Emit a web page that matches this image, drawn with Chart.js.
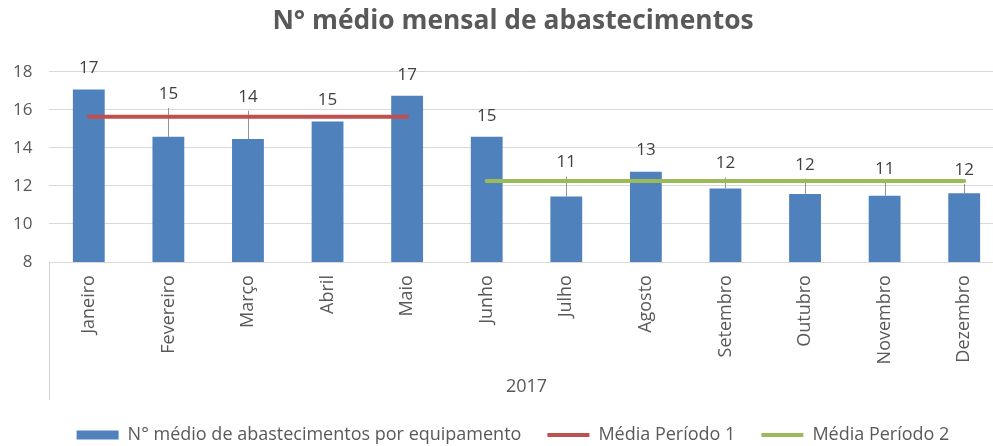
<!DOCTYPE html>
<html>
<head>
<meta charset="utf-8">
<script src="https://cdn.jsdelivr.net/npm/chart.js@4/dist/chart.umd.min.js"></script>
<style>
  html, body { margin: 0; padding: 0; background: #fff; overflow: hidden; }
  #wrap { width: 1030px; height: 446px; position: relative; }
</style>
</head>
<body>
<div id="wrap"><canvas id="chart"></canvas></div>
<script>
// Monthly data, 2017
const months = ['Janeiro', 'Fevereiro', 'Março', 'Abril', 'Maio', 'Junho',
  'Julho', 'Agosto', 'Setembro', 'Outubro', 'Novembro', 'Dezembro'];
const avgRefuels = [17.07, 14.58, 14.46, 15.38, 16.74, 14.58, 11.44, 12.75, 11.86, 11.58, 11.48, 11.62];
// upper end of the error bars (null = none visible)
const errorTop = [null, 16.09, 15.95, null, null, null, 12.49, null, 12.44, 12.38, 12.17, 12.10];
const meanPeriod1 = [15.63, 15.63, 15.63, 15.63, 15.63, null, null, null, null, null, null, null];
const meanPeriod2 = [null, null, null, null, null, 12.26, 12.26, 12.26, 12.26, 12.26, 12.26, 12.26];
const yearLabel = '2017';

const FONT = "'Open Sans', sans-serif";
const BLUE = '#4f81bd';
const RED = '#c0504d';
const GREEN = '#9bbb59';

// error bars, value labels and the left category border
const extras = {
  id: 'extras',
  beforeDatasetsDraw(chart) {
    const { ctx, chartArea, scales: { x } } = chart;
    ctx.save();
    ctx.strokeStyle = '#d0d0d0';
    ctx.lineWidth = 1;
    ctx.beginPath();
    ctx.moveTo(Math.round(chartArea.left) + 0.5, chartArea.bottom);
    ctx.lineTo(Math.round(chartArea.left) + 0.5, x.bottom);
    ctx.stroke();
    ctx.restore();
  },
  afterDatasetDraw(chart, args) {
    if (args.index !== 0) return;
    const { ctx, scales: { x, y } } = chart;
    ctx.save();
    ctx.strokeStyle = '#939393';
    ctx.lineWidth = 1;
    errorTop.forEach((v, i) => {
      if (v === null) return;
      const px = Math.round(x.getPixelForValue(i)) + 0.5;
      ctx.beginPath();
      ctx.moveTo(px, y.getPixelForValue(avgRefuels[i]));
      ctx.lineTo(px, y.getPixelForValue(v));
      ctx.stroke();
    });
    ctx.restore();
  },
  afterDatasetsDraw(chart) {
    const { ctx, scales: { x, y } } = chart;
    ctx.save();
    ctx.fillStyle = '#404040';
    ctx.font = '17px ' + FONT;
    ctx.textAlign = 'center';
    ctx.textBaseline = 'middle';
    avgRefuels.forEach((v, i) => {
      const top = errorTop[i] !== null ? y.getPixelForValue(errorTop[i]) - 14 : y.getPixelForValue(v) - 21;
      ctx.fillText(Math.round(v).toString(), x.getPixelForValue(i), top);
    });
    ctx.restore();
  }
};

new Chart(document.getElementById('chart'), {
  type: 'bar',
  data: {
    labels: months,
    datasets: [
      {
        label: 'N° médio de abastecimentos por equipamento',
        data: avgRefuels,
        backgroundColor: BLUE,
        categoryPercentage: 1,
        barPercentage: 0.4,
        order: 2
      },
      {
        type: 'line',
        label: 'Média Período 1',
        data: meanPeriod1,
        borderColor: RED,
        backgroundColor: RED,
        borderWidth: 4,
        borderCapStyle: 'round',
        pointRadius: 0,
        order: 1
      },
      {
        type: 'line',
        label: 'Média Período 2',
        data: meanPeriod2,
        borderColor: GREEN,
        backgroundColor: GREEN,
        borderWidth: 4,
        borderCapStyle: 'round',
        pointRadius: 0,
        order: 1
      }
    ]
  },
  options: {
    responsive: true,
    maintainAspectRatio: false,
    animation: false,
    layout: { padding: { left: 22, right: 26, top: 0, bottom: -8 } },
    scales: {
      x: {
        grid: { display: false },
        border: { color: '#d9d9d9' },
        ticks: {
          color: '#595959',
          font: { family: FONT, size: 18 },
          maxRotation: 90,
          minRotation: 90,
          padding: 5
        },
        title: {
          display: true,
          text: yearLabel,
          color: '#595959',
          font: { family: FONT, size: 18 },
          padding: { top: 7, bottom: 2 }
        }
      },
      y: {
        min: 8,
        max: 18,
        afterFit(scale) { scale.width = 27; },
        ticks: {
          stepSize: 2,
          color: '#595959',
          font: { family: FONT, size: 17 },
          mirror: true,
          crossAlign: 'far',
          padding: -36
        },
        grid: { color: '#d9d9d9', drawTicks: false },
        border: { display: false }
      }
    },
    plugins: {
      title: {
        display: true,
        text: 'N° médio mensal de abastecimentos',
        color: '#595959',
        font: { family: FONT, size: 26.4, weight: 'bold' },
        padding: { top: 6, bottom: 34 }
      },
      legend: {
        position: 'bottom',
        labels: {
          color: '#595959',
          font: { family: FONT, size: 18 },
          usePointStyle: true,
          pointStyleWidth: 42,
          boxHeight: 9,
          padding: 26,
          generateLabels(chart) {
            return chart.data.datasets.map((ds, i) => ({
              text: ds.label,
              fillStyle: ds.type === 'line' ? ds.borderColor : ds.backgroundColor,
              strokeStyle: ds.type === 'line' ? ds.borderColor : ds.backgroundColor,
              lineWidth: ds.type === 'line' ? 4 : 0,
              pointStyle: ds.type === 'line' ? 'line' : 'rect',
              fontColor: '#595959',
              datasetIndex: i,
              hidden: false
            }));
          }
        }
      },
      tooltip: { enabled: false }
    }
  },
  plugins: [extras]
});
</script>
</body>
</html>
